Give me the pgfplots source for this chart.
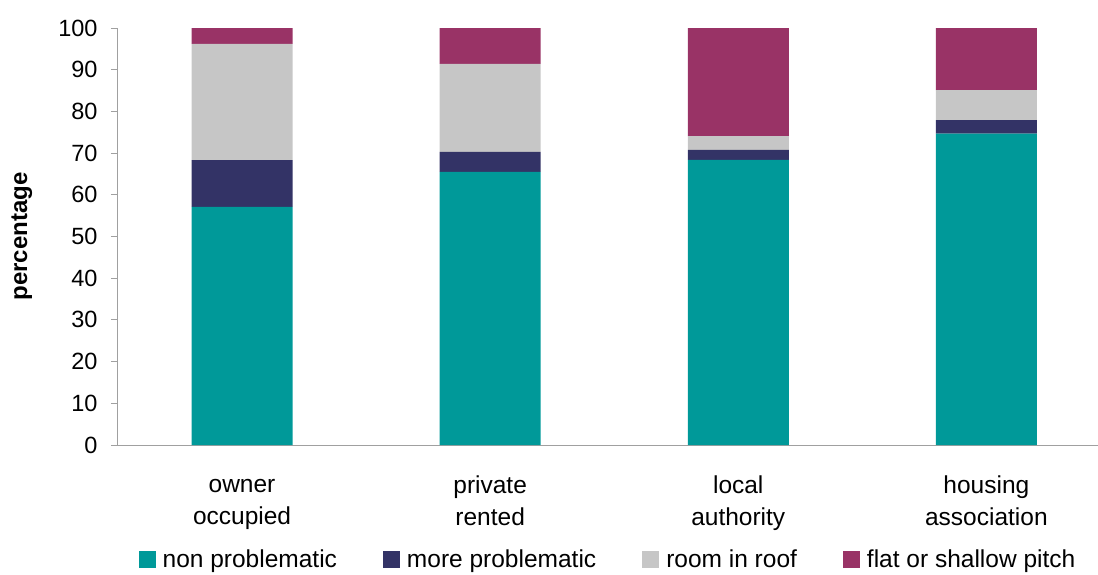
\documentclass[border=0pt]{standalone}
\usepackage{pgfplots}
\pgfplotsset{compat=1.18}
\usepackage{fontspec}
\setmainfont{Liberation Sans}
\definecolor{cteal}{RGB}{0,153,153}
\definecolor{cnavy}{RGB}{51,51,102}
\definecolor{cgray}{RGB}{198,198,198}
\definecolor{cmag}{RGB}{153,51,102}
\definecolor{caxis}{RGB}{160,160,160}
\newcommand{\vp}{\vphantom{Agy}}
\begin{document}
\begin{tikzpicture}
\begin{axis}[
  at={(0,0)}, anchor=south west,
  scale only axis, width=980pt, height=417pt,
  ybar stacked, bar width=101pt,
  xmin=-0.5, xmax=3.45, ymin=0, ymax=100,
  axis x line*=bottom, axis y line*=left,
  axis line style={draw=caxis, line width=1pt, -},
  tick style={draw=caxis, line width=1pt},
  tick align=outside,
  ytick={0,10,...,100},
  major tick length=7pt,
  xtick={0,1,2,3},
  xticklabels={{\vp owner\\\vp occupied},{\vp private\\\vp rented},{\vp local\\\vp authority},{\vp housing\\\vp association}},
  x tick style={draw=none},
  extra x ticks={-0.5,0.5,1.5,2.5},
  extra x tick labels={},
  extra x tick style={tick style={draw=caxis, line width=1pt}, major tick length=8pt},
  xticklabel style={align=center, anchor=north, yshift=-20pt, font=\fontsize{24.5}{32}\selectfont},
  yticklabel style={font=\fontsize{23.5}{28}\selectfont, xshift=-10pt},
  /pgf/number format/assume math mode=true,
  ylabel={\textbf{percentage}},
  ylabel style={at={(axis description cs:-0.098,0.5)}, anchor=center, font=\fontsize{24}{28}\selectfont},
  legend columns=4,
  legend style={at={(axis description cs:0.5,-0.274)}, anchor=center, draw=none,
    font=\fontsize{24.5}{28}\selectfont, inner sep=0pt,
    /tikz/every odd column/.append style={column sep=5pt},
    /tikz/every even column/.append style={column sep=44pt}},
  legend image code/.code={\fill[#1] (0pt,-8.5pt) rectangle (17pt,8.5pt);},
  legend cell align=left,
]
\addplot[fill=cteal, draw=none] coordinates {(0,57.1) (1,65.5) (2,68.4) (3,74.7)};
\addplot[fill=cnavy, draw=none] coordinates {(0,11.2) (1,4.8) (2,2.4) (3,3.2)};
\addplot[fill=cgray, draw=none] coordinates {(0,27.9) (1,21.1) (2,3.3) (3,7.2)};
\addplot[fill=cmag, draw=none] coordinates {(0,3.8) (1,8.6) (2,25.9) (3,14.9)};
\legend{non problematic, more problematic, room in roof, flat or shallow pitch}
\end{axis}
\pgfresetboundingbox
\path[use as bounding box] (-118pt,-129pt) rectangle (980pt,445pt);
\end{tikzpicture}
\end{document}
